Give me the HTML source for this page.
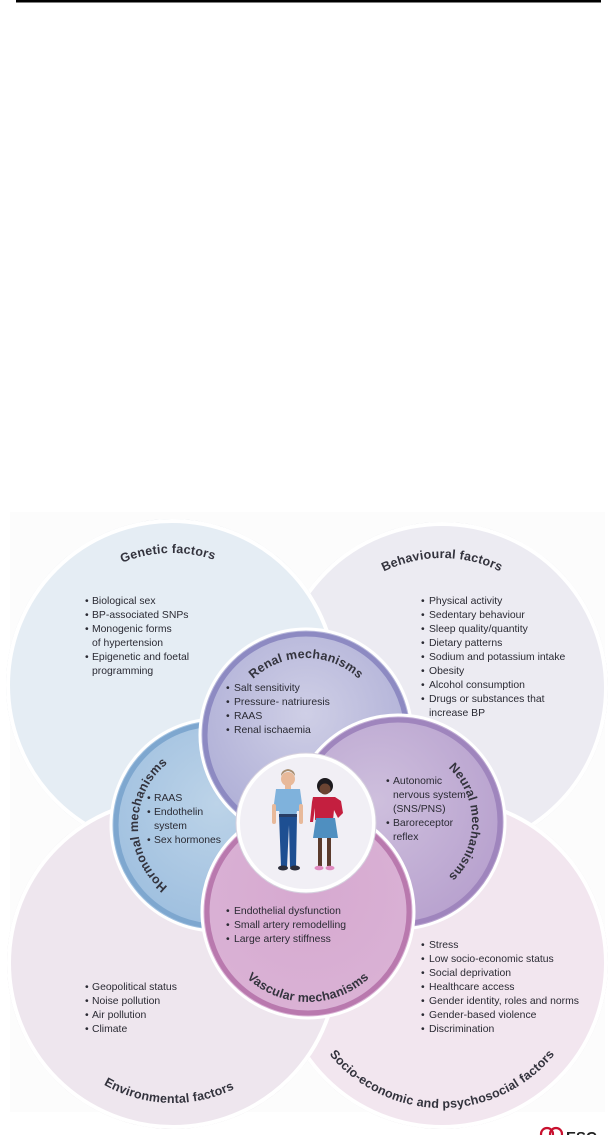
<!DOCTYPE html>
<html><head><meta charset="utf-8"><style>
html,body{margin:0;padding:0;background:#fff;}
svg{display:block;}
text{font-family:"Liberation Sans",sans-serif;fill:#2a2a33;}
.b{font-size:10.4px;}
.t{font-size:12.5px;font-weight:bold;fill:#33333d;letter-spacing:0.2px;}
</style></head><body>
<svg width="615" height="1135" viewBox="0 0 615 1135" xmlns="http://www.w3.org/2000/svg">
<defs>
<radialGradient id="gRen" cx="50%" cy="40%" r="60%"><stop offset="0" stop-color="#cfcfe6"/><stop offset="1" stop-color="#aeaed6"/></radialGradient>
<radialGradient id="gHor" cx="50%" cy="40%" r="60%"><stop offset="0" stop-color="#bcd3e8"/><stop offset="1" stop-color="#9ebfdf"/></radialGradient>
<radialGradient id="gNeu" cx="40%" cy="40%" r="60%"><stop offset="0" stop-color="#cebfdd"/><stop offset="1" stop-color="#b9a3cf"/></radialGradient>
<radialGradient id="gVas" cx="50%" cy="40%" r="60%"><stop offset="0" stop-color="#d6a9d0"/><stop offset="1" stop-color="#dab2d5"/></radialGradient>
<path id="pGen" d="M 40 685 A 132 132 0 0 1 304 685"/>
<path id="pBeh" d="M 310 690 A 132 132 0 0 1 574 690"/>
<path id="pEnv" d="M 33 963 A 140 140 0 0 0 313 963"/>
<path id="pSoc" d="M 297 963 A 145 145 0 0 0 587 963"/>
<path id="pRen" d="M 229 735 A 77 77 0 0 1 383 735"/>
<path id="pHor" d="M 217 904 A 79 79 0 0 1 217 746"/>
<path id="pNeu" d="M 398 748 A 74 74 0 0 1 398 896"/>
<path id="pVas" d="M 218 912 A 90 90 0 0 0 398 912"/>
</defs>
<rect x="16" y="0" width="585" height="2.5" fill="#000"/>
<rect x="10" y="512" width="595" height="600" fill="#fcfcfc"/>

<circle cx="442" cy="688" r="166" fill="#d9d9e0"/>
<circle cx="442" cy="688" r="164" fill="#ecebf2" stroke="#fff" stroke-width="4"/>
<circle cx="442" cy="963" r="166" fill="#dcd6dd"/>
<circle cx="442" cy="963" r="164" fill="#f2e6ef" stroke="#fff" stroke-width="4"/>
<circle cx="172" cy="685" r="166" fill="#d6dce3"/>
<circle cx="172" cy="685" r="164" fill="#e5edf4" stroke="#fff" stroke-width="4"/>
<circle cx="173" cy="963" r="166" fill="#dcd6dd"/>
<circle cx="173" cy="963" r="164" fill="#eee6ee" stroke="#fff" stroke-width="4"/>

<circle cx="217" cy="825" r="106" fill="url(#gHor)" stroke="#fff" stroke-width="3"/>
<circle cx="217" cy="825" r="101" fill="none" stroke="#7ea7cf" stroke-width="5"/>
<circle cx="306" cy="735" r="106" fill="url(#gRen)" stroke="#fff" stroke-width="3"/>
<circle cx="306" cy="735" r="101" fill="none" stroke="#8d8ac2" stroke-width="5"/>
<circle cx="398" cy="822" r="107" fill="url(#gNeu)" stroke="#fff" stroke-width="3"/>
<circle cx="398" cy="822" r="102" fill="none" stroke="#9f85bd" stroke-width="5"/>
<circle cx="308" cy="912" r="106" fill="url(#gVas)" stroke="#fff" stroke-width="3"/>
<circle cx="308" cy="912" r="101" fill="none" stroke="#b979ae" stroke-width="5"/>
<circle cx="306" cy="823" r="68" fill="#f1eff5" stroke="#fff" stroke-width="4"/>
<circle cx="306" cy="823" r="70" fill="none" stroke="#d6d0de" stroke-width="1"/>

<g>
<circle cx="288" cy="779" r="7" fill="#e8b99a"/>
<path d="M281 776 q7 -10 14 0 q0 -6 -7 -7 q-7 1 -7 7z" fill="#a88f72"/>
<rect x="285" y="784" width="6" height="6" fill="#e8b99a"/>
<path d="M276 789 h24 l3 22 h-6 l-1 5 h-16 l-1 -5 h-6z" fill="#7fb2dc"/>
<rect x="272" y="804" width="4" height="20" rx="2" fill="#e8b99a"/>
<rect x="299" y="804" width="4" height="20" rx="2" fill="#e8b99a"/>
<path d="M279 815 h18 l-1 52 h-6 l-1 -42 l-2 42 h-6z" fill="#1e4f92"/>
<rect x="279" y="814" width="18" height="3" fill="#283e66"/>
<ellipse cx="283" cy="868" rx="5" ry="2.5" fill="#2b2d3a"/>
<ellipse cx="295" cy="868" rx="5" ry="2.5" fill="#2b2d3a"/>
<circle cx="325" cy="786" r="8" fill="#1c1a1e"/>
<circle cx="325" cy="789" r="5.5" fill="#6b4432"/>
<path d="M313 797 h22 l6 4 l2 12 l-5 5 l-4 -8 l-1 10 h-18 l0 -12 l-2 14 h-3 l2 -20z" fill="#c41f3f"/>
<path d="M316 818 h19 l3 20 h-25z" fill="#4f8fc0"/>
<rect x="318" y="838" width="4" height="28" fill="#5b3b2d"/>
<rect x="327" y="838" width="4" height="28" fill="#5b3b2d"/>
<ellipse cx="319" cy="868" rx="4.5" ry="2.3" fill="#e08ac0"/>
<ellipse cx="330" cy="868" rx="4.5" ry="2.3" fill="#e08ac0"/>
</g>

<text class="t"><textPath href="#pGen" startOffset="49%" text-anchor="middle">Genetic factors</textPath></text>
<text class="t"><textPath href="#pBeh" startOffset="50%" text-anchor="middle">Behavioural factors</textPath></text>
<text class="t"><textPath href="#pEnv" startOffset="49%" text-anchor="middle">Environmental factors</textPath></text>
<text class="t"><textPath href="#pSoc" startOffset="50%" text-anchor="middle">Socio-economic and psychosocial factors</textPath></text>
<text class="t"><textPath href="#pRen" startOffset="50%" text-anchor="middle">Renal mechanisms</textPath></text>
<text class="t"><textPath href="#pHor" startOffset="50%" text-anchor="middle">Hormonal mechanisms</textPath></text>
<text class="t"><textPath href="#pNeu" startOffset="50%" text-anchor="middle">Neural mechanisms</textPath></text>
<text class="t"><textPath href="#pVas" startOffset="50%" text-anchor="middle">Vascular mechanisms</textPath></text>

<g class="b">
<text x="85" y="604" class="b">•<tspan x="92">Biological sex</tspan></text>
<text x="85" y="618" class="b">•<tspan x="92">BP-associated SNPs</tspan></text>
<text x="85" y="632" class="b">•<tspan x="92">Monogenic forms</tspan></text>
<text x="92" y="646" class="b">of hypertension</text>
<text x="85" y="660" class="b">•<tspan x="92">Epigenetic and foetal</tspan></text>
<text x="92" y="674" class="b">programming</text>

<text x="421" y="604" class="b">•<tspan x="429">Physical activity</tspan></text>
<text x="421" y="618" class="b">•<tspan x="429">Sedentary behaviour</tspan></text>
<text x="421" y="632" class="b">•<tspan x="429">Sleep quality/quantity</tspan></text>
<text x="421" y="646" class="b">•<tspan x="429">Dietary patterns</tspan></text>
<text x="421" y="660" class="b">•<tspan x="429">Sodium and potassium intake</tspan></text>
<text x="421" y="674" class="b">•<tspan x="429">Obesity</tspan></text>
<text x="421" y="688" class="b">•<tspan x="429">Alcohol consumption</tspan></text>
<text x="421" y="702" class="b">•<tspan x="429">Drugs or substances that</tspan></text>
<text x="429" y="716" class="b">increase BP</text>

<text x="226" y="691" class="b">•<tspan x="234">Salt sensitivity</tspan></text>
<text x="226" y="705" class="b">•<tspan x="234">Pressure- natriuresis</tspan></text>
<text x="226" y="719" class="b">•<tspan x="234">RAAS</tspan></text>
<text x="226" y="733" class="b">•<tspan x="234">Renal ischaemia</tspan></text>

<text x="147" y="801" class="b">•<tspan x="154">RAAS</tspan></text>
<text x="147" y="815" class="b">•<tspan x="154">Endothelin</tspan></text>
<text x="154" y="829" class="b">system</text>
<text x="147" y="843" class="b">•<tspan x="154">Sex hormones</tspan></text>

<text x="386" y="784" class="b">•<tspan x="393">Autonomic</tspan></text>
<text x="393" y="798" class="b">nervous system</text>
<text x="393" y="812" class="b">(SNS/PNS)</text>
<text x="386" y="826" class="b">•<tspan x="393">Baroreceptor</tspan></text>
<text x="393" y="840" class="b">reflex</text>

<text x="226" y="914" class="b">•<tspan x="234">Endothelial dysfunction</tspan></text>
<text x="226" y="928" class="b">•<tspan x="234">Small artery remodelling</tspan></text>
<text x="226" y="942" class="b">•<tspan x="234">Large artery stiffness</tspan></text>

<text x="85" y="990" class="b">•<tspan x="92">Geopolitical status</tspan></text>
<text x="85" y="1004" class="b">•<tspan x="92">Noise pollution</tspan></text>
<text x="85" y="1018" class="b">•<tspan x="92">Air pollution</tspan></text>
<text x="85" y="1032" class="b">•<tspan x="92">Climate</tspan></text>

<text x="421" y="948" class="b">•<tspan x="429">Stress</tspan></text>
<text x="421" y="962" class="b">•<tspan x="429">Low socio-economic status</tspan></text>
<text x="421" y="976" class="b">•<tspan x="429">Social deprivation</tspan></text>
<text x="421" y="990" class="b">•<tspan x="429">Healthcare access</tspan></text>
<text x="421" y="1004" class="b">•<tspan x="429">Gender identity, roles and norms</tspan></text>
<text x="421" y="1018" class="b">•<tspan x="429">Gender-based violence</tspan></text>
<text x="421" y="1032" class="b">•<tspan x="429">Discrimination</tspan></text>
</g>

<circle cx="547" cy="1134" r="6" fill="none" stroke="#c8102e" stroke-width="2.2"/>
<circle cx="556" cy="1134" r="6" fill="none" stroke="#c8102e" stroke-width="2.2"/>
<text x="566" y="1142" style="font-size:15px;font-weight:bold;fill:#222;">ESC</text>
</svg>
</body></html>
